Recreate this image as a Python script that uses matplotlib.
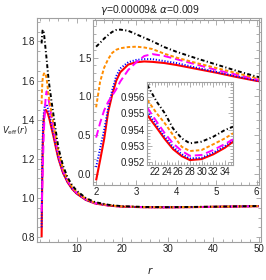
import numpy as np
import matplotlib
matplotlib.use("Agg")
import matplotlib.pyplot as plt
from matplotlib.ticker import MultipleLocator, FormatStrFormatter

FONT = ['Liberation Sans Narrow', 'Liberation Sans', 'DejaVu Sans']
plt.rcParams['font.family'] = FONT
plt.rcParams['mathtext.fontset'] = 'custom'
plt.rcParams['mathtext.rm'] = 'Liberation Sans Narrow'
plt.rcParams['mathtext.it'] = 'Liberation Sans Narrow:italic'

# ---------------- data ----------------
r_vals = [2.0, 2.1, 2.2, 2.3, 2.4, 2.5, 2.6, 2.8, 3.0, 3.2, 3.4, 3.7, 4.0, 4.5, 5.0,
          5.5, 6.0, 7, 8, 9, 10, 12, 14, 17, 20, 25, 30, 35, 40, 50]
v_black = [1.64, 1.69, 1.745, 1.79, 1.83, 1.855, 1.86, 1.845, 1.80, 1.755, 1.71, 1.635,
           1.575, 1.49, 1.41, 1.33, 1.255, 1.165, 1.105, 1.065, 1.037, 1.0, 0.979, 0.965,
           0.9577, 0.9540, 0.9532, 0.9541, 0.9555, 0.9590]
v_orange = [0.86, 1.19, 1.37, 1.48, 1.56, 1.60, 1.62, 1.635, 1.64, 1.63, 1.61, 1.55,
            1.50, 1.43, 1.365, 1.30, 1.235, 1.15, 1.095, 1.057, 1.031, 0.996, 0.976, 0.963,
            0.9566, 0.9535, 0.9527, 0.9537, 0.9551, 0.9586]
v_magenta = [0.47, 0.66, 0.82, 0.93, 1.01, 1.09, 1.19, 1.34, 1.44, 1.52, 1.545, 1.52,
             1.48, 1.41, 1.34, 1.28, 1.22, 1.14, 1.088, 1.052, 1.027, 0.993, 0.974, 0.962,
             0.9560, 0.9530, 0.9524, 0.9534, 0.9548, 0.9583]
v_blue = [0.09, 0.33, 0.57, 0.85, 1.08, 1.26, 1.36, 1.44, 1.47, 1.48, 1.48, 1.455,
          1.43, 1.37, 1.315, 1.26, 1.205, 1.13, 1.082, 1.048, 1.024, 0.991, 0.973, 0.9615,
          0.9557, 0.9528, 0.9523, 0.9533, 0.9547, 0.9582]
v_red = [-0.08, 0.18, 0.45, 0.80, 1.02, 1.20, 1.31, 1.41, 1.44, 1.45, 1.445, 1.43,
         1.405, 1.355, 1.305, 1.25, 1.20, 1.128, 1.08, 1.046, 1.022, 0.990, 0.972, 0.961,
         0.9555, 0.9527, 0.9522, 0.9532, 0.9546, 0.9581]

r_zoom = [20.7, 22.3, 23.7, 25.1, 26.6, 28.0, 30.0, 32.0, 34.0, 35.4]
z_black = [0.95671, 0.95570, 0.95499, 0.95407, 0.95346, 0.95316, 0.95326, 0.95356, 0.95397, 0.95417]
z_orange = [0.95580, 0.95499, 0.95438, 0.95367, 0.95295, 0.95269, 0.95275, 0.95310, 0.95346, 0.95377]
z_magenta = [0.95533, 0.95448, 0.95377, 0.95316, 0.95269, 0.95240, 0.95245, 0.95275, 0.95312, 0.95340]
z_blue = [0.95509, 0.95427, 0.95356, 0.95295, 0.95249, 0.95224, 0.95228, 0.95259, 0.95299, 0.95336]
z_red = [0.95488, 0.95411, 0.95342, 0.95281, 0.95238, 0.95214, 0.95220, 0.95249, 0.95289, 0.95326]

title_text = r'$\gamma$=0.00009& $\alpha$=0.009'
y_label = r'$V_{\rm eff}(r)$'
x_label = r'$r$'

# ---------------- styles ----------------
styles = [
    dict(color='#ff0000', lw=1.5, ls='-'),
    dict(color='#0000ff', lw=1.4, ls=(0, (0.6, 0.9))),
    dict(color='#ff00ff', lw=1.4, ls=(0, (4.0, 2.0))),
    dict(color='#ff8c00', lw=1.4, ls=(0, (1.8, 1.1))),
    dict(color='#000000', lw=1.4, ls=(0, (2.0, 1.2, 0.6, 1.2))),
]
main_series = [v_red, v_blue, v_magenta, v_orange, v_black]
zoom_series = [z_red, z_blue, z_magenta, z_orange, z_black]

FRAME = '#a0a0a0'
TXT = '#222222'

W, H = 266, 280
fig = plt.figure(figsize=(W / 100, H / 100), dpi=100)


def box(l, t, r, b):
    return [l / W, 1 - b / H, (r - l) / W, (b - t) / H]


def style_axes(ax, fs):
    for s in ax.spines.values():
        s.set_color(FRAME)
        s.set_linewidth(0.8)
    ax.tick_params(which='both', direction='in', top=True, right=True,
                   color=FRAME, labelcolor=TXT, labelsize=fs, pad=1.5, width=0.6)
    ax.tick_params(which='major', length=3.5)
    ax.tick_params(which='minor', length=2)


# main axes
ax = fig.add_axes(box(37, 18, 261, 242))
r_arr = np.array(r_vals)
mask = r_arr >= 2.3
for vals, st in zip(main_series, styles):
    ax.plot(r_arr[mask], np.array(vals)[mask], color=st['color'], lw=st['lw'],
            ls=st['ls'], solid_capstyle='butt')
ax.set_xlim(1.29, 50.44)
ax.set_ylim(0.775, 1.92)
ax.xaxis.set_major_locator(MultipleLocator(10))
ax.xaxis.set_minor_locator(MultipleLocator(2))
ax.yaxis.set_major_locator(MultipleLocator(0.2))
ax.yaxis.set_minor_locator(MultipleLocator(0.05))
ax.yaxis.set_major_formatter(FormatStrFormatter('%.1f'))
style_axes(ax, 7)

# inset 1
ax1 = fig.add_axes(box(93.3, 19.5, 259, 185))
for vals, st in zip(main_series, styles):
    ax1.plot(r_vals, vals, color=st['color'], lw=st['lw'], ls=st['ls'],
             solid_capstyle='butt')
ax1.set_xlim(1.93, 6.06)
ax1.set_ylim(-0.14, 1.99)
ax1.xaxis.set_major_locator(MultipleLocator(1))
ax1.xaxis.set_minor_locator(MultipleLocator(0.2))
ax1.yaxis.set_major_locator(MultipleLocator(0.5))
ax1.yaxis.set_minor_locator(MultipleLocator(0.1))
ax1.yaxis.set_major_formatter(FormatStrFormatter('%.1f'))
style_axes(ax1, 7)

# inset 2
ax2 = fig.add_axes(box(147.3, 81.7, 232.5, 165))
for vals, st in zip(zoom_series, styles):
    ax2.plot(r_zoom, vals, color=st['color'], lw=st['lw'], ls=st['ls'],
             solid_capstyle='butt')
ax2.set_xlim(20.7, 35.3)
ax2.set_ylim(0.95184, 0.95691)
ax2.xaxis.set_major_locator(MultipleLocator(2))
ax2.xaxis.set_minor_locator(MultipleLocator(0.5))
ax2.yaxis.set_major_locator(MultipleLocator(0.001))
ax2.yaxis.set_minor_locator(MultipleLocator(0.0002))
ax2.yaxis.set_major_formatter(FormatStrFormatter('%.3f'))
style_axes(ax2, 7)

fig.text(150 / W, 1 - 10 / H, title_text, ha='center', va='center', fontsize=7.5, color=TXT)
fig.text(2 / W, 1 - 131 / H, y_label, ha='left', va='center', fontsize=6.2, color=TXT)
fig.text(150 / W, 1 - 271 / H, x_label, ha='center', va='center', fontsize=7.5, color=TXT)

fig.savefig('out.png', dpi=100)
